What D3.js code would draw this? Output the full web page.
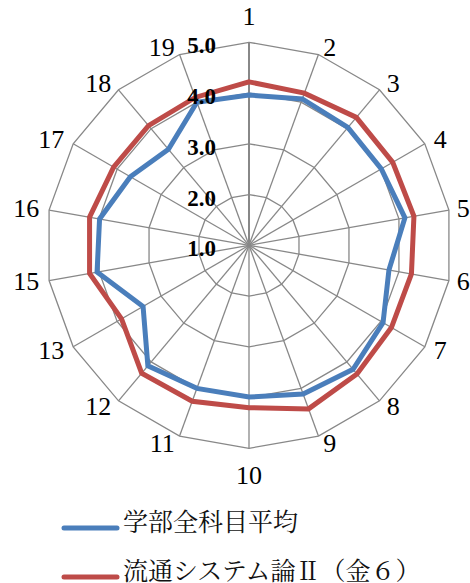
<html>
<head>
  <meta charset="utf-8">
  <title>Radar chart</title>
  <style>
    body{ margin: 0; background: #fff; }
    .serif{ font-family: "Liberation Serif", serif; }
  </style>
  <script src="https://cdn.jsdelivr.net/npm/d3@7"></script>
</head>
<body>
  <div id="container"></div>
  <script>
    //*******DATA*******
    const axisLabels = ["1","2","3","4","5","6","7","8","9","10","11","12","13","15","16","17","18","19"];
    const facultyAvg = [3.96, 4.07, 4.03, 4.01, 4.12, 3.80, 4.05, 4.19, 4.12, 3.99, 4.00, 4.10, 3.41, 4.04, 3.99, 3.70, 3.47, 4.00];
    const courseVals = [4.22, 4.19, 4.29, 4.27, 4.30, 4.25, 4.24, 4.31, 4.43, 4.20, 4.27, 4.29, 3.90, 4.19, 4.19, 4.08, 4.08, 4.10];
    const tickVals = [1, 2, 3, 4, 5];
    const seriesNames = ["学部全科目平均", "流通システム論Ⅱ（金６）"];
    const seriesColors = ["#4a7ebb", "#be4b48"];

    //*******CONSTANTS*******
    const width = 470, height = 583;
    const cx = 249, cy = 245.3, R = 203;

    const svg = d3.select("#container")
      .append("svg")
      .attr("width", width)
      .attr("height", height);

    const r = d3.scaleLinear().domain([1, 5]).range([0, R]);
    const angle = d3.scaleLinear().domain([0, axisLabels.length]).range([0, 2 * Math.PI]);

    // point on axis i at value v
    function pt(i, v){
      const a = angle(i);
      return [cx + r(v) * Math.sin(a), cy - r(v) * Math.cos(a)];
    }

    const g = svg.append("g");

    // grid rings
    tickVals.slice(1).forEach(function(t){
      g.append("path")
        .attr("d", d3.line().curve(d3.curveLinearClosed)(axisLabels.map(function(d, i){ return pt(i, t); })))
        .attr("fill", "none")
        .attr("stroke", "#888")
        .attr("stroke-width", 1.3);
    });

    // spokes
    g.selectAll("line.spoke")
      .data(axisLabels)
      .enter()
      .append("line")
      .attr("class", "spoke")
      .attr("x1", cx).attr("y1", cy)
      .attr("x2", function(d, i){ return pt(i, 5)[0]; })
      .attr("y2", function(d, i){ return pt(i, 5)[1]; })
      .attr("stroke", "#888")
      .attr("stroke-width", function(d, i){ return i === 0 ? 2 : 1.3; });

    // series
    [facultyAvg, courseVals].forEach(function(vals, k){
      g.append("path")
        .attr("d", d3.line().curve(d3.curveLinearClosed)(vals.map(function(v, i){ return pt(i, v); })))
        .attr("fill", "none")
        .attr("stroke", seriesColors[k])
        .attr("stroke-width", 5)
        .attr("stroke-linejoin", "miter");
    });

    // category labels
    g.selectAll("text.cat")
      .data(axisLabels)
      .enter()
      .append("text")
      .attr("class", "cat serif")
      .style("font-size", "26px")
      .attr("text-anchor", function(d, i){
        const s = Math.sin(angle(i));
        return Math.abs(s) < 0.01 ? "middle" : (s > 0 ? "start" : "end");
      })
      .attr("x", function(d, i){
        const s = Math.sin(angle(i));
        const px = cx + (R + 8) * s;
        if (Math.abs(s) < 0.01) return px;
        return s > 0 ? px + (s > 0.9 ? 0 : 2) : px - 2;
      })
      .attr("y", function(d, i){
        const c = Math.cos(angle(i));
        const s = Math.sin(angle(i));
        const py = cy - (R + 8) * c;
        if (Math.abs(s) < 0.01) return (c > 0 ? py - 18 : py + 19) + 8.5;
        return py + 8.5;
      })
      .text(function(d){ return d; });

    // value tick labels
    g.selectAll("text.tick")
      .data(tickVals)
      .enter()
      .append("text")
      .attr("class", "tick serif")
      .style("font-weight", "bold")
      .style("font-size", "23px")
      .attr("text-anchor", "end")
      .attr("x", cx - 33)
      .attr("y", function(d){ return cy - r(d) + 3.5 + 7.5; })
      .text(function(d){ return d3.format(".1f")(d); });

    // legend
    const legend = svg.append("g");
    seriesNames.forEach(function(name, k){
      const ly = 528 + k * 49;
      legend.append("line")
        .attr("x1", 64).attr("x2", 117)
        .attr("y1", ly).attr("y2", ly)
        .attr("stroke", seriesColors[k])
        .attr("stroke-width", 5)
        .attr("stroke-linecap", "round");
      legend.append("text")
        .attr("x", 123)
        .attr("y", ly + 3)
        .style("font-family", "'Noto Serif CJK JP', 'Noto Sans CJK JP', serif")
        .style("font-size", "25px")
        .attr("fill", "#111")
        .text(name);
    });
  </script>
</body>
</html>
